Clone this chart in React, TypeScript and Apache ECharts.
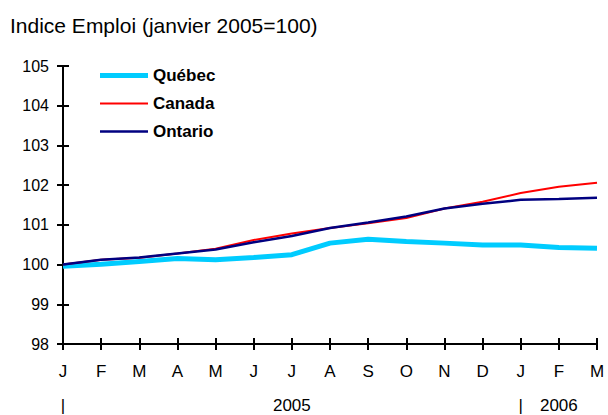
import React, { useEffect, useRef } from "react";
import * as echarts from "echarts";

const months = ["J", "F", "M", "A", "M", "J", "J", "A", "S", "O", "N", "D", "J", "F", "M"];
const yearLabels = ["|", "", "", "", "", "", "2005", "", "", "", "", "", "|", "2006", ""];
const quebec = [99.96, 100.01, 100.08, 100.15, 100.12, 100.18, 100.25, 100.54, 100.64, 100.58, 100.54, 100.49, 100.49, 100.43, 100.41];
const canada = [100.0, 100.12, 100.17, 100.28, 100.4, 100.62, 100.78, 100.92, 101.04, 101.17, 101.41, 101.58, 101.8, 101.96, 102.06];
const ontario = [100.0, 100.12, 100.18, 100.28, 100.38, 100.56, 100.72, 100.92, 101.06, 101.21, 101.41, 101.53, 101.63, 101.65, 101.68];
const titleText = "Indice Emploi (janvier 2005=100)";

const FONT = "Liberation Sans, Arial, sans-serif";

export default function App() {
  const ref = useRef<HTMLDivElement>(null);
  useEffect(() => {
    if (!ref.current) return;
    const chart = echarts.init(ref.current, null, { renderer: "svg" });
    const axisLine = { show: true, lineStyle: { color: "#000", width: 2 } };
    chart.setOption({
      animation: false,
      backgroundColor: "#fff",
      title: {
        text: titleText,
        left: 10,
        top: 15,
        padding: 0,
        textStyle: { fontFamily: FONT, fontSize: 21, fontWeight: "normal", color: "#000" },
      },
      legend: {
        orient: "vertical",
        left: 100,
        top: 67,
        padding: 0,
        itemWidth: 48,
        itemHeight: 14,
        itemGap: 11,
        textStyle: { fontFamily: FONT, fontSize: 17, fontWeight: "bold", color: "#000" },
        data: [
          { name: "Québec", icon: "path://M0,0H48V5H0Z" },
          { name: "Canada", icon: "path://M0,0H48V2H0Z" },
          { name: "Ontario", icon: "path://M0,0H48V2.5H0Z" },
        ],
      },
      grid: { left: 63, top: 66, width: 534, height: 278, outerBoundsMode: "none", containLabel: false },
      xAxis: [
        {
          type: "category",
          data: months,
          boundaryGap: false,
          position: "bottom",
          axisLine,
          axisTick: { show: true, interval: 0, length: 6, lineStyle: { color: "#000", width: 2 } },
          axisLabel: { interval: 0, margin: 19, fontFamily: FONT, fontSize: 17, color: "#000" },
          splitLine: { show: false },
        },
        {
          type: "category",
          data: months,
          boundaryGap: false,
          position: "bottom",
          axisLine: { show: false },
          axisTick: { show: true, inside: true, interval: 0, length: 6, lineStyle: { color: "#000", width: 2 } },
          axisLabel: { show: false },
          splitLine: { show: false },
        },
        {
          type: "category",
          data: yearLabels,
          boundaryGap: false,
          position: "bottom",
          axisLine: { show: false },
          axisTick: { show: false },
          axisLabel: { interval: 0, margin: 55, lineHeight: 12, fontFamily: FONT, fontSize: 17, color: "#000" },
          splitLine: { show: false },
        },
      ],
      yAxis: [
        {
          type: "value",
          min: 98,
          max: 105,
          interval: 1,
          position: "left",
          axisLine,
          axisTick: { show: true, length: 6, lineStyle: { color: "#000", width: 2 } },
          axisLabel: { margin: 14, fontFamily: FONT, fontSize: 16, color: "#000" },
          splitLine: { show: false },
        },
        {
          type: "value",
          min: 98,
          max: 105,
          interval: 1,
          position: "left",
          axisLine: { show: false },
          axisTick: { show: true, inside: true, length: 6, lineStyle: { color: "#000", width: 2 } },
          axisLabel: { show: false },
          splitLine: { show: false },
        },
      ],
      series: [
        {
          name: "Québec",
          type: "line",
          data: quebec,
          symbol: "none",
          lineStyle: { color: "#00CCFF", width: 5 },
          itemStyle: { color: "#00CCFF" },
        },
        {
          name: "Canada",
          type: "line",
          data: canada,
          symbol: "none",
          lineStyle: { color: "#FF0000", width: 2 },
          itemStyle: { color: "#FF0000" },
        },
        {
          name: "Ontario",
          type: "line",
          data: ontario,
          symbol: "none",
          lineStyle: { color: "#000080", width: 2.5 },
          itemStyle: { color: "#000080" },
        },
      ],
    });
    return () => chart.dispose();
  }, []);
  return (
    <div
      ref={ref}
      style={{ position: "fixed", left: 0, top: 0, width: 608, height: 415, background: "#fff" }}
    />
  );
}
